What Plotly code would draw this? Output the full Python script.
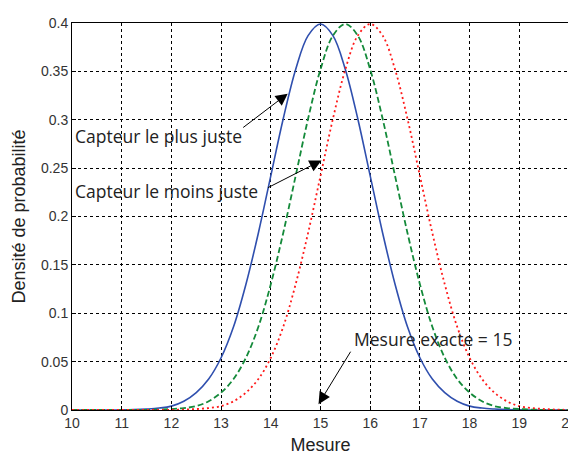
import plotly.graph_objects as go

x_vals = [10 + 0.25 * i for i in range(41)]

blue_juste = [0, 0, 0, 0, 0.0001, 0.0004, 0.001, 0.002, 0.004, 0.009, 0.018, 0.032, 0.054,
              0.086, 0.130, 0.183, 0.242, 0.301, 0.352, 0.387, 0.399, 0.387, 0.352, 0.301,
              0.242, 0.183, 0.130, 0.086, 0.054, 0.032, 0.018, 0.009, 0.004, 0.002, 0.001,
              0.0004, 0.0001, 0, 0, 0, 0]
green_mid = [0, 0, 0, 0, 0, 0, 0.0001, 0.0004, 0.001, 0.002, 0.004, 0.009, 0.018, 0.032,
             0.054, 0.086, 0.130, 0.183, 0.242, 0.301, 0.352, 0.387, 0.399, 0.387, 0.352,
             0.301, 0.242, 0.183, 0.130, 0.086, 0.054, 0.032, 0.018, 0.009, 0.004, 0.002,
             0.001, 0.0004, 0.0001, 0, 0]
red_moins = [0, 0, 0, 0, 0, 0, 0, 0, 0.0001, 0.0004, 0.001, 0.002, 0.004, 0.009, 0.018,
             0.032, 0.054, 0.086, 0.130, 0.183, 0.242, 0.301, 0.352, 0.387, 0.399, 0.387,
             0.352, 0.301, 0.242, 0.183, 0.130, 0.086, 0.054, 0.032, 0.018, 0.009, 0.004,
             0.002, 0.001, 0.0004, 0.0001]

x_ticks = list(range(10, 21))
x_tick_labels = [str(v) for v in x_ticks]
y_ticks = [0, 0.05, 0.1, 0.15, 0.2, 0.25, 0.3, 0.35, 0.4]
y_tick_labels = ["0", "0.05", "0.1", "0.15", "0.2", "0.25", "0.3", "0.35", "0.4"]

fig = go.Figure()
fig.add_trace(go.Scatter(x=x_vals, y=blue_juste, mode="lines", line_shape="spline",
                         line=dict(color="#2f4fae", width=1.6), showlegend=False))
fig.add_trace(go.Scatter(x=x_vals, y=green_mid, mode="lines", line_shape="spline",
                         line=dict(color="#148a3a", width=1.8, dash="6px,3px"), showlegend=False))
fig.add_trace(go.Scatter(x=x_vals, y=red_moins, mode="lines", line_shape="spline",
                         line=dict(color="#ff1a1a", width=1.8, dash="2px,3px"), showlegend=False))

ann_font = dict(family="Open Sans", size=17.5, color="#222222")
arrow_style = dict(text="", showarrow=True, arrowhead=2, arrowsize=2.4, arrowwidth=1,
                   arrowcolor="black")
annotations = [
    dict(x=10.03, y=0.2835, text="Capteur le plus juste", showarrow=False, xanchor="left",
         yanchor="middle", font=ann_font),
    dict(x=10.03, y=0.2268, text="Capteur le moins juste", showarrow=False, xanchor="left",
         yanchor="middle", font=ann_font),
    dict(x=15.63, y=0.0734, text="Mesure exacte = 15", showarrow=False, xanchor="left",
         yanchor="middle", font=ann_font),
    dict(x=14.34, y=0.327, ax=-46, ay=35, **arrow_style),
    dict(x=15.02, y=0.258, ax=-55, ay=28, **arrow_style),
    dict(x=14.96, y=0.006, ax=33, ay=-54, **arrow_style),
]

tick_font = dict(family="Liberation Sans", size=14, color="#333333")
title_font = dict(family="Liberation Sans", size=18, color="#222222")
fig.update_layout(
    width=576, height=455,
    margin=dict(l=64, r=13, t=7, b=53),
    paper_bgcolor="white", plot_bgcolor="white",
    annotations=annotations,
    xaxis=dict(range=[10, 20], tickvals=x_ticks, ticktext=x_tick_labels,
               ticklabeloverflow="allow", showgrid=True, gridcolor="black",
               griddash="3px,3px", gridwidth=1, showline=True, linecolor="black",
               mirror=True, linewidth=1, ticks="inside", ticklen=4, tickcolor="black",
               zeroline=False, tickfont=tick_font,
               title=dict(text="Mesure", font=title_font, standoff=8)),
    yaxis=dict(range=[0, 0.4], tickvals=y_ticks, ticktext=y_tick_labels,
               ticklabeloverflow="allow", showgrid=True,
               gridcolor="black", griddash="3px,3px", gridwidth=1, showline=True,
               linecolor="black", mirror=True, linewidth=1, ticks="inside", ticklen=4,
               tickcolor="black", zeroline=False, tickfont=tick_font,
               title=dict(text="Densité de probabilité", font=title_font, standoff=10)),
)

fig.write_html("out.html")
